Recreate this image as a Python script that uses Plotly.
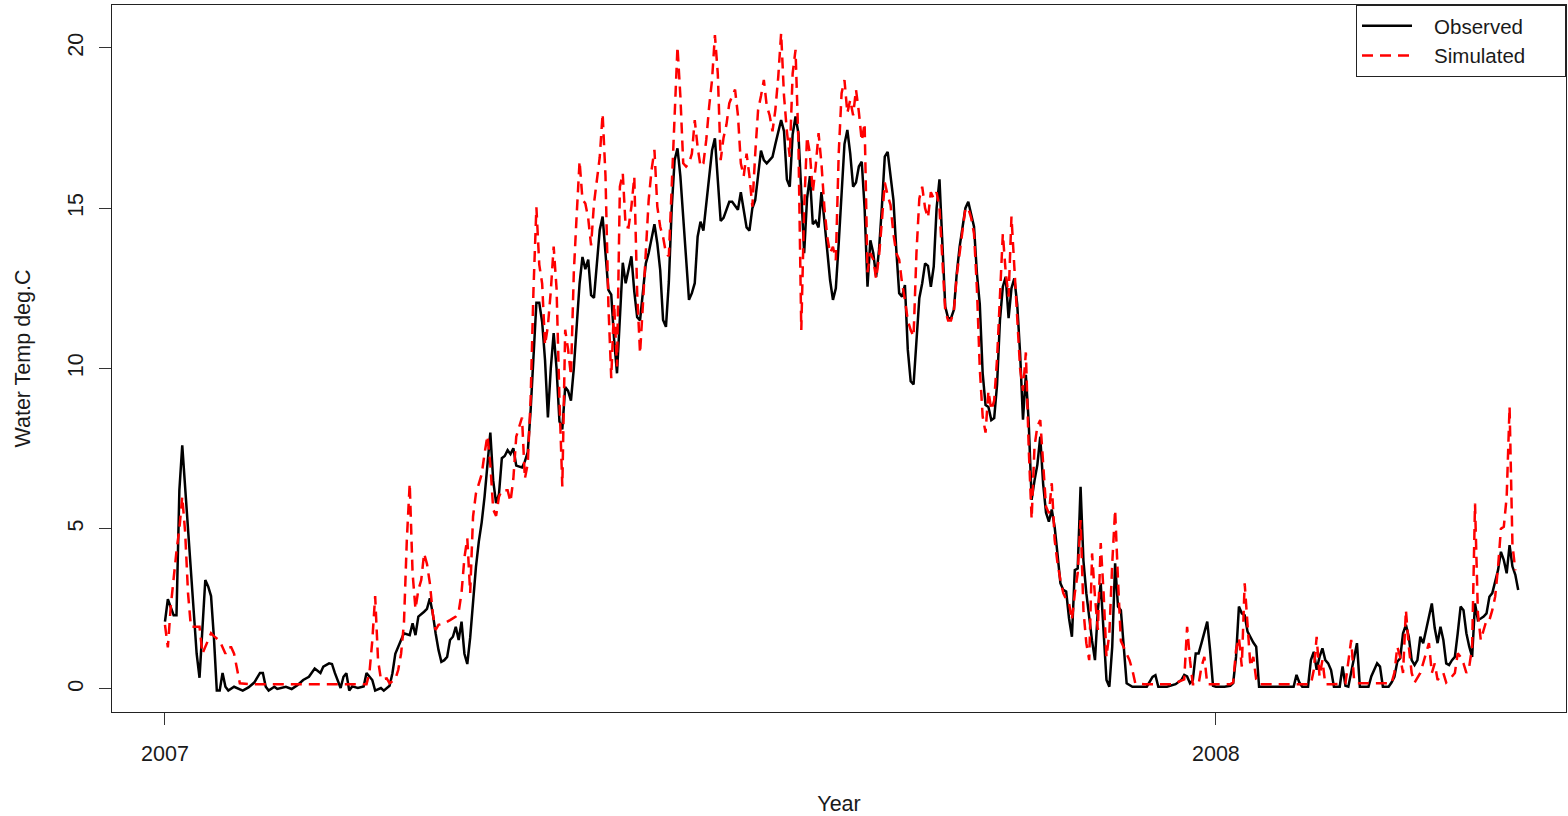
import pandas as pd
import plotly.graph_objects as go

# ---- data (day offset from 2007-01-01, water temperature deg C) ----
start_date = "2007-01-01"

obs_day = [0,1,2,3,4,5,6,7,8,9,10,11,12,13,14,15,16,17,18,19,20,21,22,24,27,29,31,33,34,35,36,38,39,42,44,46,48,50,52,54,55,57,58,59,61,62,63,64,65,67,69,70,72,73,75,76,78,79,80,82,83,85,86,87,88,90,91,92,93,94,95,96,97,98,99,100,101,102,103,104,105,106,107,108,109,110,111,112,113,114,115,116,117,118,119,120,121,122,124,125,126,127,128,129,130,131,132,133,134,135,136,137,138,139,140,141,142,143,144,145,146,147,148,149,150,151,152,153,154,155,156,157,158,159,160,161,162,163,164,165,166,167,168,169,170,171,172,173,174,175,176,177,178,179,180,181,182,183,184,185,186,187,188,189,190,191,192,193,194,195,196,197,199,200,201,202,203,204,205,207,208,209,210,211,212,213,214,215,216,217,218,219,220,221,222,223,224,225,226,227,228,229,230,231,232,233,234,235,236,237,238,239,240,241,242,243,244,245,246,247,248,249,250,251,252,253,254,255,256,257,258,259,260,261,262,263,264,265,266,267,268,269,270,271,272,273,274,275,276,277,278,279,280,281,282,283,284,285,286,287,288,289,290,291,292,293,294,295,296,297,298,299,300,301,302,303,304,305,306,307,308,309,310,311,312,313,314,315,316,317,318,319,320,321,322,323,324,325,326,327,328,329,330,331,332,333,334,336,339,341,343,344,345,348,351,353,354,355,356,357,358,359,360,361,362,363,364,365,368,370,371,372,373,374,375,376,377,378,379,380,382,387,392,393,394,395,397,398,399,400,401,402,403,404,405,406,408,409,410,411,412,413,414,415,418,419,420,421,422,423,425,426,427,428,429,430,431,432,433,434,435,436,437,438,439,440,441,442,443,444,445,446,447,448,449,450,451,452,453,454,455,456,457,458,459,460,461,462,463,464,465,466,467,468,469,470]
obs_temp = [2.1,2.8,2.55,2.3,2.3,6.2,7.6,6.3,4.75,3.6,2.15,1.1,0.35,1.9,3.4,3.2,2.9,1.6,-0.05,-0.05,0.5,0.07,-0.05,0.07,-0.05,0.05,0.2,0.5,0.5,0.07,-0.05,0.07,0.0,0.07,0.0,0.12,0.28,0.38,0.64,0.5,0.7,0.8,0.78,0.5,0.03,0.38,0.49,-0.05,0.08,0.03,0.08,0.5,0.28,-0.05,0.03,-0.05,0.1,0.49,1.1,1.53,1.74,1.68,2.05,1.68,2.26,2.41,2.5,2.83,2.36,1.74,1.22,0.85,0.9,1.0,1.53,1.63,1.94,1.53,2.1,1.1,0.78,1.6,2.85,3.8,4.6,5.2,6.0,7.0,8.0,6.5,5.8,6.08,7.2,7.27,7.45,7.33,7.51,6.97,6.91,7.1,7.39,8.7,10.26,12.05,12.05,11.45,10.26,8.47,10.0,11.1,10.0,8.35,8.1,9.42,9.3,9.0,10.0,11.45,12.65,13.48,13.1,13.4,12.29,12.2,13.4,14.32,14.74,13.7,12.45,12.3,10.89,9.85,11.5,13.3,12.66,13.1,13.5,12.4,11.6,11.5,12.5,13.28,13.6,14.0,14.5,13.9,13.07,11.51,11.3,12.7,15.0,16.5,16.87,16.0,14.74,13.28,12.14,12.35,12.66,14.11,14.58,14.3,15.15,16.0,16.8,17.18,16.0,14.6,14.7,14.95,15.2,15.2,14.95,15.5,15.0,14.4,14.3,15.0,15.25,16.8,16.5,16.4,16.5,16.6,17.0,17.34,17.75,17.4,15.9,15.67,17.3,17.86,17.34,15.5,13.6,15.3,16.0,14.5,14.6,14.4,15.5,14.63,13.6,12.76,12.14,12.5,13.9,15.6,17.0,17.44,16.7,15.67,15.8,16.3,16.45,15.0,12.55,14.0,13.6,12.86,13.7,15.05,16.61,16.76,16.09,15.26,13.7,12.35,12.24,12.6,10.58,9.6,9.5,10.89,12.2,12.66,13.28,13.2,12.55,13.18,15.0,15.9,14.01,11.93,11.57,11.57,11.83,12.97,13.8,14.42,15.0,15.2,14.84,14.42,12.97,12.0,9.85,8.86,8.8,8.39,8.45,9.5,11.5,12.55,12.86,11.57,12.5,12.81,12.0,10.47,8.4,9.8,8.3,5.9,6.5,7.0,7.87,6.4,5.5,5.22,5.6,5.06,4.2,3.3,3.09,3.04,2.2,1.63,3.71,3.76,6.31,4.0,2.99,2.15,1.5,0.9,2.46,3.3,1.74,0.28,0.07,1.32,3.92,2.57,2.46,1.22,0.18,0.07,0.07,0.07,0.38,0.43,0.07,0.07,0.15,0.28,0.44,0.39,0.18,0.28,1.11,1.11,1.43,1.79,2.1,1.2,0.1,0.07,0.07,0.1,0.18,1.0,2.57,2.36,2.3,1.79,1.6,1.45,1.32,0.07,0.07,0.07,0.07,0.44,0.2,0.07,0.07,0.9,1.16,0.6,1.0,1.27,0.9,0.8,0.59,0.07,0.07,0.7,0.1,0.07,0.5,1.0,1.43,0.07,0.07,0.4,0.59,0.8,0.7,0.07,0.07,0.2,0.38,0.85,0.96,1.74,2.0,1.63,0.9,0.75,0.9,1.63,1.43,1.84,2.26,2.67,1.9,1.43,1.94,1.53,0.8,0.75,0.9,1.0,1.74,2.57,2.46,1.74,1.32,1.0,2.67,2.15,2.2,2.26,2.36,2.88,2.99,3.4,3.71,4.28,4.02,3.61,4.49,3.82,3.56,3.09]

sim_day = [0,1,2,3,4,5,6,7,8,9,10,11,12,13,14,15,16,17,18,19,20,21,22,23,24,25,26,30,40,50,60,70,71,72,73,74,75,77,78,80,81,82,83,84,85,86,87,88,89,90,91,92,93,94,95,97,99,101,102,103,104,105,106,107,108,109,110,111,112,113,114,115,116,117,119,120,121,122,124,125,126,127,128,129,130,131,132,133,134,135,136,137,138,139,140,141,142,143,144,145,146,147,148,149,150,151,152,153,154,155,156,157,158,159,160,161,162,163,164,165,166,167,168,169,170,171,172,173,174,175,176,177,178,179,180,181,182,183,184,185,186,187,188,189,190,191,192,193,194,195,196,197,198,199,200,201,202,203,204,205,206,207,208,209,210,211,212,213,214,215,216,217,218,219,220,221,222,223,224,225,226,227,228,229,230,231,232,233,234,235,236,237,238,239,240,241,242,243,244,245,246,247,248,249,250,251,252,253,254,255,256,257,258,259,260,261,262,263,264,265,266,267,268,269,270,271,272,273,274,275,276,277,278,279,280,281,282,283,284,285,286,287,288,289,290,291,292,293,294,295,296,297,298,299,300,301,302,303,304,305,306,307,308,309,310,311,312,313,314,315,316,317,318,319,320,321,322,323,324,325,326,327,328,329,330,331,332,333,334,335,336,337,340,345,350,354,355,356,357,359,360,361,362,365,370,371,372,373,374,375,376,377,378,379,380,385,390,395,398,399,400,401,402,403,406,410,412,413,414,420,426,427,428,429,430,431,432,433,434,436,438,439,440,441,442,444,445,446,448,449,450,451,452,453,454,455,456,457,458,459,460,461,462,463,464,465,466,467,468,469]
sim_temp = [2.0,1.3,2.57,3.5,4.3,5.0,6.0,4.9,3.0,1.94,1.94,1.94,1.94,1.1,1.3,1.5,1.74,1.65,1.58,1.5,1.3,1.1,1.3,1.3,1.1,0.59,0.18,0.15,0.15,0.15,0.17,0.15,0.5,1.5,2.9,0.9,0.3,0.33,0.18,0.3,0.59,1.1,2.05,4.65,6.42,3.61,2.5,3.09,3.4,4.23,3.9,3.3,2.36,1.84,2.0,2.05,2.15,2.26,2.4,3.0,4.1,4.7,3.0,5.38,6.1,6.42,6.7,7.35,7.9,7.0,5.6,5.4,6.0,6.2,6.2,5.84,6.56,7.87,8.47,6.56,7.03,9.06,12.5,15.03,13.24,12.65,10.73,11.33,12.41,13.8,12.5,9.06,6.32,11.21,10.6,9.78,13.0,14.8,16.47,15.27,15.15,14.68,13.84,15.15,15.87,16.59,17.95,16.0,12.0,9.7,12.03,10.06,15.67,16.09,14.42,14.4,15.05,15.98,12.35,10.47,12.0,13.6,15.26,16.19,16.82,15.05,14.42,14.1,13.6,13.5,15.88,18.0,20.04,18.5,16.4,16.3,16.4,16.7,17.75,16.9,16.3,16.4,17.13,18.17,19.0,20.4,19.2,16.5,17.2,17.6,18.27,18.5,18.7,17.9,16.4,16.0,16.7,16.0,15.05,16.7,18.07,18.5,19.0,18.2,17.9,17.4,18.07,19.1,20.46,18.5,17.4,16.6,19.2,19.94,17.1,11.2,15.0,17.23,16.7,15.5,16.3,17.34,16.4,15.05,14.11,13.6,13.8,13.38,16.71,18.59,19.0,17.97,18.38,17.9,18.7,18.0,17.1,17.65,13.0,13.6,13.4,12.8,13.5,14.6,15.8,15.4,15.1,14.2,13.6,13.4,12.66,12.14,11.5,11.2,11.0,13.6,15.3,15.67,15.0,14.7,15.5,15.3,15.5,15.0,13.5,11.8,11.5,11.5,11.8,12.9,13.6,14.3,15.0,15.0,14.7,14.2,12.5,10.0,8.5,8.0,9.3,8.7,9.0,10.3,12.5,14.2,13.0,12.24,14.74,13.2,11.9,10.0,9.3,10.5,7.5,5.3,7.56,8.2,8.39,6.9,5.69,5.48,6.42,4.65,3.92,3.4,2.99,2.8,2.67,2.15,2.99,3.61,5.27,2.46,1.43,0.9,4.23,2.88,1.84,4.55,3.0,1.0,1.74,3.92,5.59,3.4,1.5,1.3,1.11,0.9,0.59,0.18,0.15,0.15,0.15,0.3,1.94,0.9,0.15,0.15,0.7,1.0,0.15,0.15,0.15,0.2,1.22,1.6,0.7,3.3,1.84,0.7,1.0,0.3,0.15,0.15,0.15,0.15,0.15,0.59,1.63,0.39,0.9,0.15,0.15,0.18,1.53,0.28,0.18,0.18,0.18,0.5,1.32,1.0,0.5,2.46,1.32,0.5,0.2,0.5,1.11,1.43,0.5,0.8,0.28,0.5,0.2,0.28,0.5,1.11,1.0,0.8,0.5,0.7,1.32,5.79,2.36,1.53,1.84,2.15,2.15,2.46,2.88,3.8,5.0,5.06,6.0,8.81,4.5,3.7]

series_names = ["Observed", "Simulated"]
year_ticks = ["2007-01-01", "2008-01-01"]
year_labels = ["2007", "2008"]
temp_ticks = [0, 5, 10, 15, 20]

base = pd.Timestamp(start_date)
obs_x = [base + pd.Timedelta(days=d) for d in obs_day]
sim_x = [base + pd.Timedelta(days=d) for d in sim_day]

FONT = "Liberation Sans, Arial, sans-serif"
TXT = "#1a1a1a"
FS = 21.5
NB = "\u00a0"

def legend_label(s):
    # pad label so the legend box spacing resembles the original
    return NB * 3 + s + NB * 6

fig = go.Figure()
fig.add_trace(go.Scatter(x=obs_x, y=obs_temp, mode="lines", name=legend_label(series_names[0]),
                         line=dict(color="black", width=2.5)))
fig.add_trace(go.Scatter(x=sim_x, y=sim_temp, mode="lines", name=legend_label(series_names[1]),
                         line=dict(color="#ff0000", width=2.5, dash="11px,7px")))

x_lo = base - pd.Timedelta(hours=18.4 * 24)
x_hi = base + pd.Timedelta(hours=486.6 * 24)

fig.update_layout(
    width=1568, height=816,
    margin=dict(l=112, r=2, t=5, b=104),
    paper_bgcolor="white", plot_bgcolor="white",
    font=dict(family=FONT, size=FS, color=TXT),
    showlegend=True,
    legend=dict(x=1, xanchor="right", y=1, yanchor="top",
                bordercolor="#222", borderwidth=1, bgcolor="white",
                font=dict(family=FONT, size=20.5, color=TXT),
                itemwidth=50, tracegroupgap=0),
)
fig.update_xaxes(
    type="date", range=[x_lo, x_hi],
    tickmode="array", tickvals=year_ticks, ticktext=year_labels,
    ticks="outside", ticklen=12, tickwidth=1, tickcolor="#333",
    ticklabelstandoff=10,
    showline=True, mirror=True, linecolor="#222", linewidth=1,
    showgrid=False, zeroline=False,
    tickfont=dict(family=FONT, size=FS, color=TXT),
    title=dict(text="Year", standoff=31, font=dict(family=FONT, size=FS, color=TXT)),
)
fig.update_yaxes(
    range=[-0.718, 21.34],
    tickmode="array", tickvals=temp_ticks,
    tickangle=-90,
    ticks="outside", ticklen=12, tickwidth=1, tickcolor="#333",
    ticklabelstandoff=7,
    showline=True, mirror=True, linecolor="#222", linewidth=1,
    showgrid=False, zeroline=False,
    tickfont=dict(family=FONT, size=FS, color=TXT),
    title=dict(text="Water Temp deg.C", standoff=27, font=dict(family=FONT, size=FS, color=TXT)),
)

fig.write_html("out.html", config={"displayModeBar": False},
               post_script="document.body.style.margin='0';")
